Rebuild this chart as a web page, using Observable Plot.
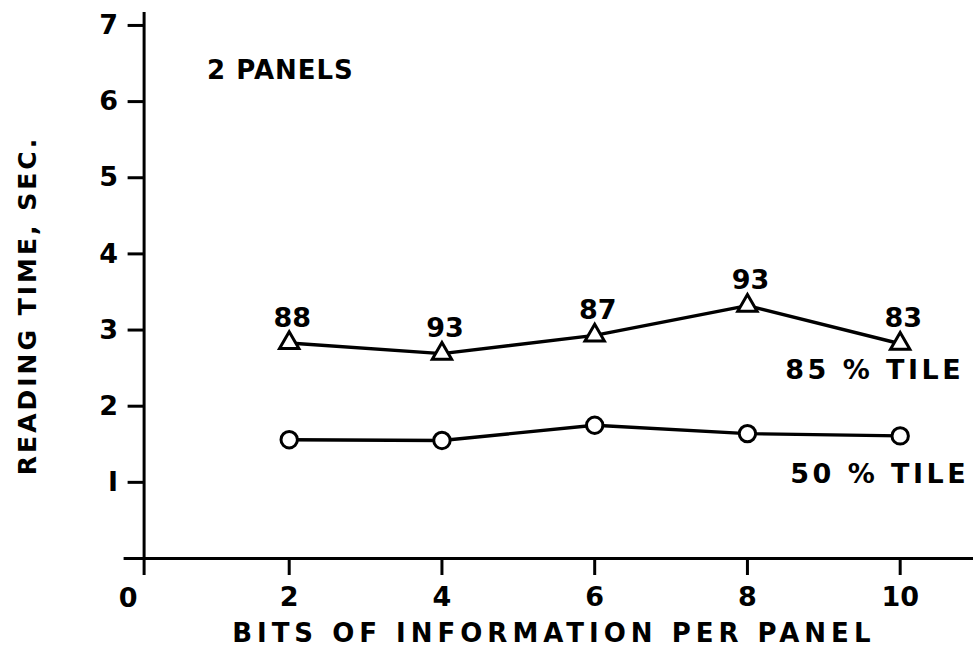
<!DOCTYPE html>
<html>
<head>
<meta charset="utf-8">
<script src="https://cdn.jsdelivr.net/npm/d3@7"></script>
<script src="https://cdn.jsdelivr.net/npm/@observablehq/plot@0.6"></script>
<style>
  html, body { margin: 0; padding: 0; background: #fff; }
  svg { font-family: "DejaVu Sans", sans-serif; }
</style>
</head>
<body>
<div id="chart"></div>
<script>
// Data
const bits = [2, 4, 6, 8, 10];
const p85 = [2.83, 2.69, 2.93, 3.32, 2.82];
const p50 = [1.56, 1.55, 1.75, 1.64, 1.61];
const p85Labels = ["88", "93", "87", "93", "83"];
const xTicks = [2, 4, 6, 8, 10];
const yTicks = [1, 2, 3, 4, 5, 6, 7];
const yTickLabels = ["I", "2", "3", "4", "5", "6", "7"];

const rows85 = bits.map((b, i) => ({bits: b, t: p85[i], label: p85Labels[i]}));
const rows50 = bits.map((b, i) => ({bits: b, t: p50[i]}));
const last85 = [rows85[rows85.length - 1]];
const last50 = [rows50[rows50.length - 1]];

const font = "DejaVu Sans, sans-serif";

const chart = Plot.plot({
  width: 979,
  height: 661,
  marginLeft: 143.6,
  marginRight: 6,
  marginTop: 12,
  marginBottom: 103,
  style: {background: "#fff", color: "#000", fontFamily: font},
  x: {domain: [0.1, 10.96], axis: null},
  y: {domain: [0, 7.17], axis: null},
  marks: [
    // axis lines
    Plot.ruleY([0], {stroke: "#000", strokeWidth: 3, insetLeft: -20}),
    Plot.ruleX([0.1], {stroke: "#000", strokeWidth: 3, insetBottom: -17}),
    Plot.axisY({ticks: yTicks, tickFormat: (d) => yTickLabels[yTicks.indexOf(d)], tickSize: 16, tickPadding: 10,
      fontSize: 27, fontWeight: "bold", strokeWidth: 3, label: null}),
    Plot.axisX({ticks: xTicks, tickSize: 17, tickPadding: 11, fontSize: 27, fontWeight: "bold",
      strokeWidth: 3, label: null}),
    // origin label
    Plot.text(["0"], {frameAnchor: "bottom-left", textAnchor: "middle", lineAnchor: "middle", dx: -16, dy: 40,
      fontSize: 27, fontWeight: "bold", fill: "#000"}),
    // lines
    Plot.line(rows85, {x: "bits", y: "t", stroke: "#000", strokeWidth: 3.4}),
    Plot.line(rows50, {x: "bits", y: "t", stroke: "#000", strokeWidth: 3.4}),
    Plot.dot(rows85, {x: "bits", y: "t", symbol: "triangle", r: 7.2, fill: "#fff", stroke: "#000", strokeWidth: 3}),
    Plot.dot(rows50, {x: "bits", y: "t", symbol: "circle", r: 8.2, fill: "#fff", stroke: "#000", strokeWidth: 3}),
    // point labels
    Plot.text(rows85, {x: "bits", y: "t", text: "label", dx: 3, dy: -25, fontSize: 27, fontWeight: "bold", fill: "#000"}),
    // series labels
    Plot.text(last85, {x: "bits", y: "t", text: () => "85 % TILE", textAnchor: "start", dx: -115, dy: 27,
      fontSize: 27, fontWeight: "bold", fill: "#000"}),
    Plot.text(last50, {x: "bits", y: "t", text: () => "50 % TILE", textAnchor: "start", dx: -110, dy: 38,
      fontSize: 27, fontWeight: "bold", fill: "#000"}),
    // panel note
    Plot.text(["2 PANELS"], {frameAnchor: "top-left", dx: 63, dy: 58, textAnchor: "start", lineAnchor: "middle",
      fontSize: 26, fontWeight: "bold", fill: "#000"}),
    // axis titles
    Plot.text(["BITS OF INFORMATION PER PANEL"], {frameAnchor: "bottom", textAnchor: "middle", dx: -5, dy: 75,
      lineAnchor: "middle", fontSize: 26, fontWeight: "bold", fill: "#000"}),
    Plot.text(["READING TIME, SEC."], {frameAnchor: "left", textAnchor: "middle", rotate: -90, dx: -116, dy: 20,
      lineAnchor: "middle", fontSize: 25, fontWeight: "bold", fill: "#000"})
  ]
});
document.getElementById("chart").appendChild(chart);

// letter spacing to match the hand lettering
const spacing = {
  "BITS OF INFORMATION PER PANEL": "5px",
  "READING TIME, SEC.": "3px",
  "85 % TILE": "3.5px",
  "50 % TILE": "3.5px",
  "2 PANELS": "1px"
};
d3.select(chart).selectAll("text").each(function () {
  const s = spacing[this.textContent];
  if (s) this.style.letterSpacing = s;
});
</script>
</body>
</html>
